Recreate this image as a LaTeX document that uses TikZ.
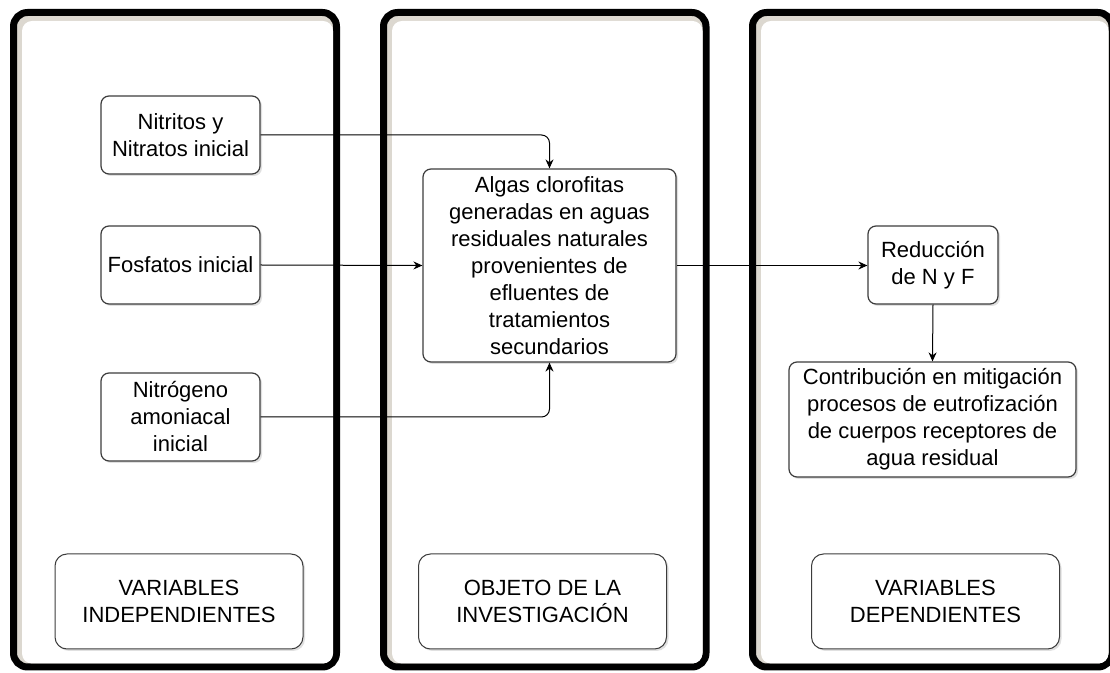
\documentclass[tikz,border=0pt]{standalone}
\usepackage{fontspec}
\setmainfont{Liberation Sans}
\usetikzlibrary{arrows.meta,shadows}
\definecolor{colshade}{RGB}{220,216,208}
\definecolor{boxline}{RGB}{60,60,60}
\tikzset{%
  colbox/.style   = {draw=black, line width=3.5pt, rounded corners=7pt,%
                     fill=colshade},%
  colinner/.style = {fill=white, rounded corners=5pt},%
  varbox/.style   = {shape=rectangle, rounded corners=4pt, draw=boxline,%
                     line width=0.6pt, fill=white, align=center, inner sep=1pt,%
                     font=\fontsize{11}{13.5}\selectfont,%
                     drop shadow={shadow xshift=1pt, shadow yshift=-1pt,%
                                  fill=black!12, opacity=1}},%
  labelbox/.style = {varbox, rounded corners=6pt, line width=0.5pt,%
                     minimum width=124pt, minimum height=47.5pt},%
  flow/.style     = {-{Stealth[length=4.5pt,width=4pt]}, line width=0.5pt,%
                     rounded corners=4pt}%
}
\begin{document}
\begin{tikzpicture}[x=0.5pt,y=-0.5pt]
	\clip (0,0) rectangle (1110,673);
	% columns
	\draw[colbox] (13.5,12.5) rectangle (336.5,667);
	\fill[colinner] (22,21) rectangle (333,663.5);
	\draw[colbox] (383.5,12.5) rectangle (706,667);
	\fill[colinner] (392,21) rectangle (702.5,663.5);
	\draw[colbox] (752.5,12.5) rectangle (1112,667);
	\fill[colinner] (761,21) rectangle (1108.5,663.5);
	% independent variables
	\node (nitritos) at (180.5,135) [varbox, minimum width=79.5pt, minimum height=39pt]%
		{Nitritos y\\Nitratos inicial};
	\node (fosfatos) at (180.5,265) [varbox, minimum width=79.5pt, minimum height=39pt]%
		{Fosfatos inicial};
	\node (nitrogeno) at (180.5,417) [varbox, minimum width=79.5pt, minimum height=44pt]%
		{Nitrógeno\\amoniacal\\inicial};
	% object
	\node (algas) at (549.5,265.5) [varbox, minimum width=126.5pt, minimum height=96.5pt]%
		{Algas clorofitas\\generadas en aguas\\residuales naturales\\provenientes de\\%
		 efluentes de\\tratamientos\\secundarios};
	% dependent variables
	\node (reduccion) at (933,265) [varbox, minimum width=65pt, minimum height=39pt]%
		{Reducción\\de N y F};
	\node (contrib) at (932.5,419.5) [varbox, minimum width=143.5pt, minimum height=57.5pt]%
		{Contribución en mitigación\\procesos de eutrofización\\de cuerpos receptores de\\agua residual};
	% column labels
	\node (indep) at (179,601.5) [labelbox] {VARIABLES\\INDEPENDIENTES};
	\node (objeto) at (542.5,601.5) [labelbox] {OBJETO DE LA\\INVESTIGACIÓN};
	\node (dep) at (935.5,601.5) [labelbox] {VARIABLES\\DEPENDIENTES};
	% connectors
	\draw[flow] (nitritos.east) -| (algas.north);
	\draw[flow] (fosfatos.east) -- (algas.west);
	\draw[flow] (nitrogeno.east) -| (algas.south);
	\draw[flow] (algas.east) -- (reduccion.west |- algas.east);
	\draw[flow] (reduccion.south) -- (contrib.north);
\end{tikzpicture}
\end{document}
